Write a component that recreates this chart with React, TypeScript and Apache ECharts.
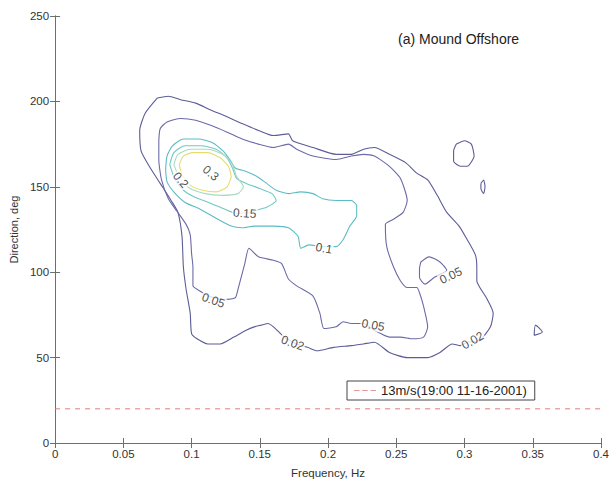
import React, { useEffect, useRef } from "react";
import * as echarts from "echarts";

type Pt = [number, number];

// Contour levels of the directional spectrum (frequency in Hz, direction in deg)
const LEVEL_002 = 0.02;
const LEVEL_005 = 0.05;
const LEVEL_010 = 0.1;
const LEVEL_015 = 0.15;
const LEVEL_020 = 0.2;
const LEVEL_030 = 0.3;

const contour002Main: Pt[] = [
  [0.075, 202], [0.083, 203], [0.092, 201], [0.103, 199], [0.114, 195], [0.126, 191],
  [0.137, 187], [0.149, 183], [0.160, 180], [0.171, 181], [0.174, 177], [0.189, 173],
  [0.206, 169], [0.217, 169], [0.226, 172], [0.234, 173], [0.245, 169], [0.257, 164],
  [0.265, 158], [0.273, 154], [0.280, 145], [0.287, 135], [0.296, 127], [0.302, 119],
  [0.308, 110], [0.309, 103], [0.309, 95], [0.316, 85], [0.321, 76], [0.319, 68],
  [0.311, 60], [0.302, 59], [0.297, 57], [0.291, 58], [0.282, 53], [0.273, 50],
  [0.258, 50], [0.245, 53], [0.234, 59], [0.226, 58], [0.217, 57], [0.204, 56],
  [0.192, 54], [0.185, 56], [0.177, 58], [0.168, 62], [0.160, 68], [0.156, 70],
  [0.151, 69], [0.146, 68], [0.140, 66], [0.131, 62], [0.121, 58], [0.112, 58],
  [0.104, 61], [0.100, 64], [0.099, 76], [0.096, 90], [0.094, 103], [0.093, 121],
  [0.090, 135], [0.085, 142], [0.077, 152], [0.069, 162], [0.063, 171], [0.062, 183],
  [0.066, 193],
];
const contour002IslandA: Pt[] = [
  [0.294, 175], [0.300, 177], [0.305, 175], [0.307, 168], [0.302, 162], [0.297, 162],
  [0.292, 165], [0.292, 171],
];
const contour002IslandB: Pt[] = [
  [0.312, 152], [0.314, 154], [0.315, 150], [0.314, 146], [0.312, 149],
];
const contour002IslandC: Pt[] = [
  [0.351, 63], [0.352, 69], [0.357, 65],
];

const contour005Main: Pt[] = [
  [0.076, 177], [0.077, 184], [0.082, 188], [0.092, 190], [0.103, 189], [0.114, 186],
  [0.126, 182], [0.137, 178], [0.149, 175], [0.160, 173], [0.171, 175], [0.177, 172],
  [0.189, 168], [0.206, 166], [0.217, 168], [0.226, 169], [0.234, 168], [0.245, 162],
  [0.253, 155], [0.258, 142], [0.255, 135], [0.248, 131], [0.242, 128], [0.243, 115],
  [0.248, 103], [0.253, 95], [0.258, 91], [0.265, 91], [0.267, 88], [0.270, 80],
  [0.273, 68], [0.270, 62], [0.262, 61], [0.253, 62], [0.245, 62], [0.234, 66],
  [0.226, 70], [0.217, 70], [0.211, 71], [0.206, 68], [0.197, 67], [0.194, 76],
  [0.189, 86], [0.177, 92], [0.171, 96], [0.166, 105], [0.160, 107], [0.149, 109],
  [0.142, 114], [0.139, 105], [0.134, 90], [0.132, 85], [0.123, 84], [0.113, 86],
  [0.106, 89], [0.101, 92], [0.101, 103], [0.100, 111], [0.099, 122], [0.096, 128],
  [0.089, 136], [0.083, 143], [0.078, 154], [0.076, 166],
];
const contour005Hole: Pt[] = [
  [0.268, 106], [0.274, 109], [0.282, 106], [0.287, 101], [0.278, 97], [0.271, 93],
  [0.267, 97], [0.267, 102],
];

const contour010: Pt[] = [
  [0.081, 160], [0.082, 168], [0.086, 174], [0.094, 178], [0.105, 178], [0.115, 176],
  [0.123, 171], [0.128, 166], [0.132, 161], [0.140, 159], [0.148, 156], [0.155, 152],
  [0.162, 148], [0.171, 146], [0.180, 147], [0.189, 146], [0.196, 143], [0.206, 142],
  [0.217, 142], [0.221, 139], [0.221, 133], [0.216, 127], [0.211, 119], [0.206, 115],
  [0.196, 115], [0.186, 116], [0.180, 114], [0.178, 121], [0.171, 126], [0.160, 127],
  [0.146, 127], [0.137, 126], [0.129, 127], [0.117, 132], [0.106, 137], [0.095, 141],
  [0.087, 147], [0.082, 153],
];
const contour015: Pt[] = [
  [0.084, 163], [0.087, 170], [0.095, 174], [0.107, 174], [0.118, 172], [0.126, 167],
  [0.130, 161], [0.133, 155], [0.140, 152], [0.150, 149], [0.159, 146], [0.162, 142],
  [0.155, 138], [0.146, 136], [0.139, 134.5], [0.130, 135], [0.121, 138], [0.112, 141],
  [0.102, 144], [0.094, 148], [0.088, 154],
];
const contour020: Pt[] = [
  [0.087, 163], [0.090, 169], [0.099, 172], [0.112, 172], [0.123, 169], [0.130, 163],
  [0.133, 156], [0.138, 150], [0.134, 146], [0.122, 145], [0.110, 146], [0.099, 149],
  [0.092, 154],
];
const contour030: Pt[] = [
  [0.091, 163], [0.094, 168], [0.101, 170], [0.112, 170], [0.121, 167], [0.127, 162],
  [0.129, 156], [0.126, 150], [0.118, 147], [0.108, 148], [0.099, 151], [0.093, 157],
];

// Inline contour labels: level and where it sits on its line
const contourLabels: { level: number; at: Pt }[] = [
  { level: LEVEL_030, at: [0.114, 158] },
  { level: LEVEL_020, at: [0.092, 154] },
  { level: LEVEL_015, at: [0.139, 134.5] },
  { level: LEVEL_010, at: [0.197, 114] },
  { level: LEVEL_005, at: [0.116, 83.5] },
  { level: LEVEL_005, at: [0.233, 69] },
  { level: LEVEL_005, at: [0.290, 98] },
  { level: LEVEL_002, at: [0.174, 58.5] },
  { level: LEVEL_002, at: [0.306, 60] },
];
const contourLabelAngles = [-40, -50, -4, -10, -20, -10, 25, -20, 30];

// Reference wind direction line
const windLabel = "13m/s(19:00 11-16-2001)";
const windDirection = 20;
const freqRange: [number, number] = [0, 0.4];
const dirRange: [number, number] = [0, 250];

const FONT = "Liberation Sans, Arial, Helvetica, sans-serif";

const close = (pts: Pt[]): Pt[] => [...pts, pts[0]];

export default function App() {
  const ref = useRef<HTMLDivElement>(null);

  useEffect(() => {
    if (!ref.current) return;
    const chart = echarts.init(ref.current, undefined, { renderer: "svg" });

    const contours: { level: number; pts: Pt[]; color: string }[] = [
      { level: LEVEL_002, pts: contour002Main, color: "#5c5c98" },
      { level: LEVEL_002, pts: contour002IslandA, color: "#5c5c98" },
      { level: LEVEL_002, pts: contour002IslandB, color: "#5c5c98" },
      { level: LEVEL_002, pts: contour002IslandC, color: "#5c5c98" },
      { level: LEVEL_005, pts: contour005Main, color: "#6c6aa8" },
      { level: LEVEL_005, pts: contour005Hole, color: "#6c6aa8" },
      { level: LEVEL_010, pts: contour010, color: "#5cbcc6" },
      { level: LEVEL_015, pts: contour015, color: "#72c8c4" },
      { level: LEVEL_020, pts: contour020, color: "#a6dcc0" },
      { level: LEVEL_030, pts: contour030, color: "#e6dc6e" },
    ];

    const axisColor = "#6e6e6e";
    const tickLabel = { color: "#333", fontSize: 11.5, fontFamily: FONT };
    const windColor = "#e07a7a";

    chart.setOption({
      animation: false,
      backgroundColor: "#fff",
      title: {
        text: "(a) Mound Offshore",
        left: 393,
        top: 27,
        textStyle: { fontSize: 14, fontWeight: "normal", color: "#222", fontFamily: FONT },
      },
      legend: {
        data: [
          {
            name: windLabel,
            icon: "path://M0,0h6v1h-6z M9,0h6v1h-6z M18,0h6v1h-6z",
            itemStyle: { color: "#e89a9a" },
          },
        ],
        left: 347,
        top: 381,
        orient: "horizontal",
        backgroundColor: "#fff",
        borderColor: "#444",
        borderWidth: 1,
        borderRadius: 0,
        padding: [3, 8, 3, 7],
        itemWidth: 22,
        itemHeight: 1,
        itemGap: 6,
        textStyle: { fontSize: 13, color: "#222", fontFamily: FONT },
      },
      grid: { left: 54, right: 10, top: 16, bottom: 40 },
      xAxis: [
        {
          type: "value",
          min: freqRange[0],
          max: freqRange[1],
          interval: 0.05,
          name: "Frequency, Hz",
          nameLocation: "middle",
          nameGap: 24,
          nameTextStyle: { fontSize: 11.5, color: "#333", fontFamily: FONT },
          axisLine: { show: true, lineStyle: { color: axisColor } },
          axisTick: { show: true, inside: true, length: 5, lineStyle: { color: axisColor } },
          axisLabel: { ...tickLabel, margin: 5 },
          splitLine: { show: false },
        },
        {
          type: "value",
          position: "top",
          min: freqRange[0],
          max: freqRange[1],
          interval: 0.05,
          axisLine: { show: true, lineStyle: { color: axisColor } },
          axisTick: { show: true, inside: true, length: 5, lineStyle: { color: axisColor } },
          axisLabel: { show: false },
          splitLine: { show: false },
        },
      ],
      yAxis: [
        {
          type: "value",
          min: dirRange[0],
          max: dirRange[1],
          interval: 50,
          name: "Direction, deg",
          nameLocation: "middle",
          nameGap: 24,
          nameTextStyle: { fontSize: 11, color: "#333", fontFamily: FONT },
          axisLine: { show: true, lineStyle: { color: axisColor } },
          axisTick: { show: true, inside: true, length: 5, lineStyle: { color: axisColor } },
          axisLabel: { ...tickLabel, margin: 6 },
          splitLine: { show: false },
        },
        {
          type: "value",
          position: "right",
          min: dirRange[0],
          max: dirRange[1],
          interval: 50,
          axisLine: { show: true, lineStyle: { color: axisColor } },
          axisTick: { show: true, inside: true, length: 5, lineStyle: { color: axisColor } },
          axisLabel: { show: false },
          splitLine: { show: false },
        },
      ],
      series: [
        ...contours.map((c) => ({
          name: `level ${c.level}`,
          type: "line",
          data: close(c.pts),
          symbol: "none",
          smooth: 0.2,
          silent: true,
          lineStyle: { color: c.color, width: 1.1 },
          z: 2,
        })),
        {
          name: windLabel,
          type: "line",
          data: [
            [freqRange[0], windDirection],
            [freqRange[1], windDirection],
          ],
          symbol: "none",
          silent: true,
          itemStyle: { color: windColor },
          lineStyle: { color: windColor, width: 1, type: [5, 5] },
          z: 2,
        },
        {
          name: "contour labels",
          type: "scatter",
          symbolSize: 1,
          silent: true,
          itemStyle: { color: "transparent" },
          z: 5,
          data: contourLabels.map((l, i) => ({
            value: l.at,
            label: {
              show: true,
              position: "inside",
              formatter: String(l.level),
              rotate: contourLabelAngles[i],
              fontSize: 12,
              color: "#222",
              fontFamily: FONT,
              backgroundColor: "#fff",
              padding: [0, 1],
            },
          })),
        },
      ],
    });

    return () => chart.dispose();
  }, []);

  return (
    <div
      ref={ref}
      style={{ position: "absolute", left: 0, top: 0, width: 612, height: 484 }}
    />
  );
}
